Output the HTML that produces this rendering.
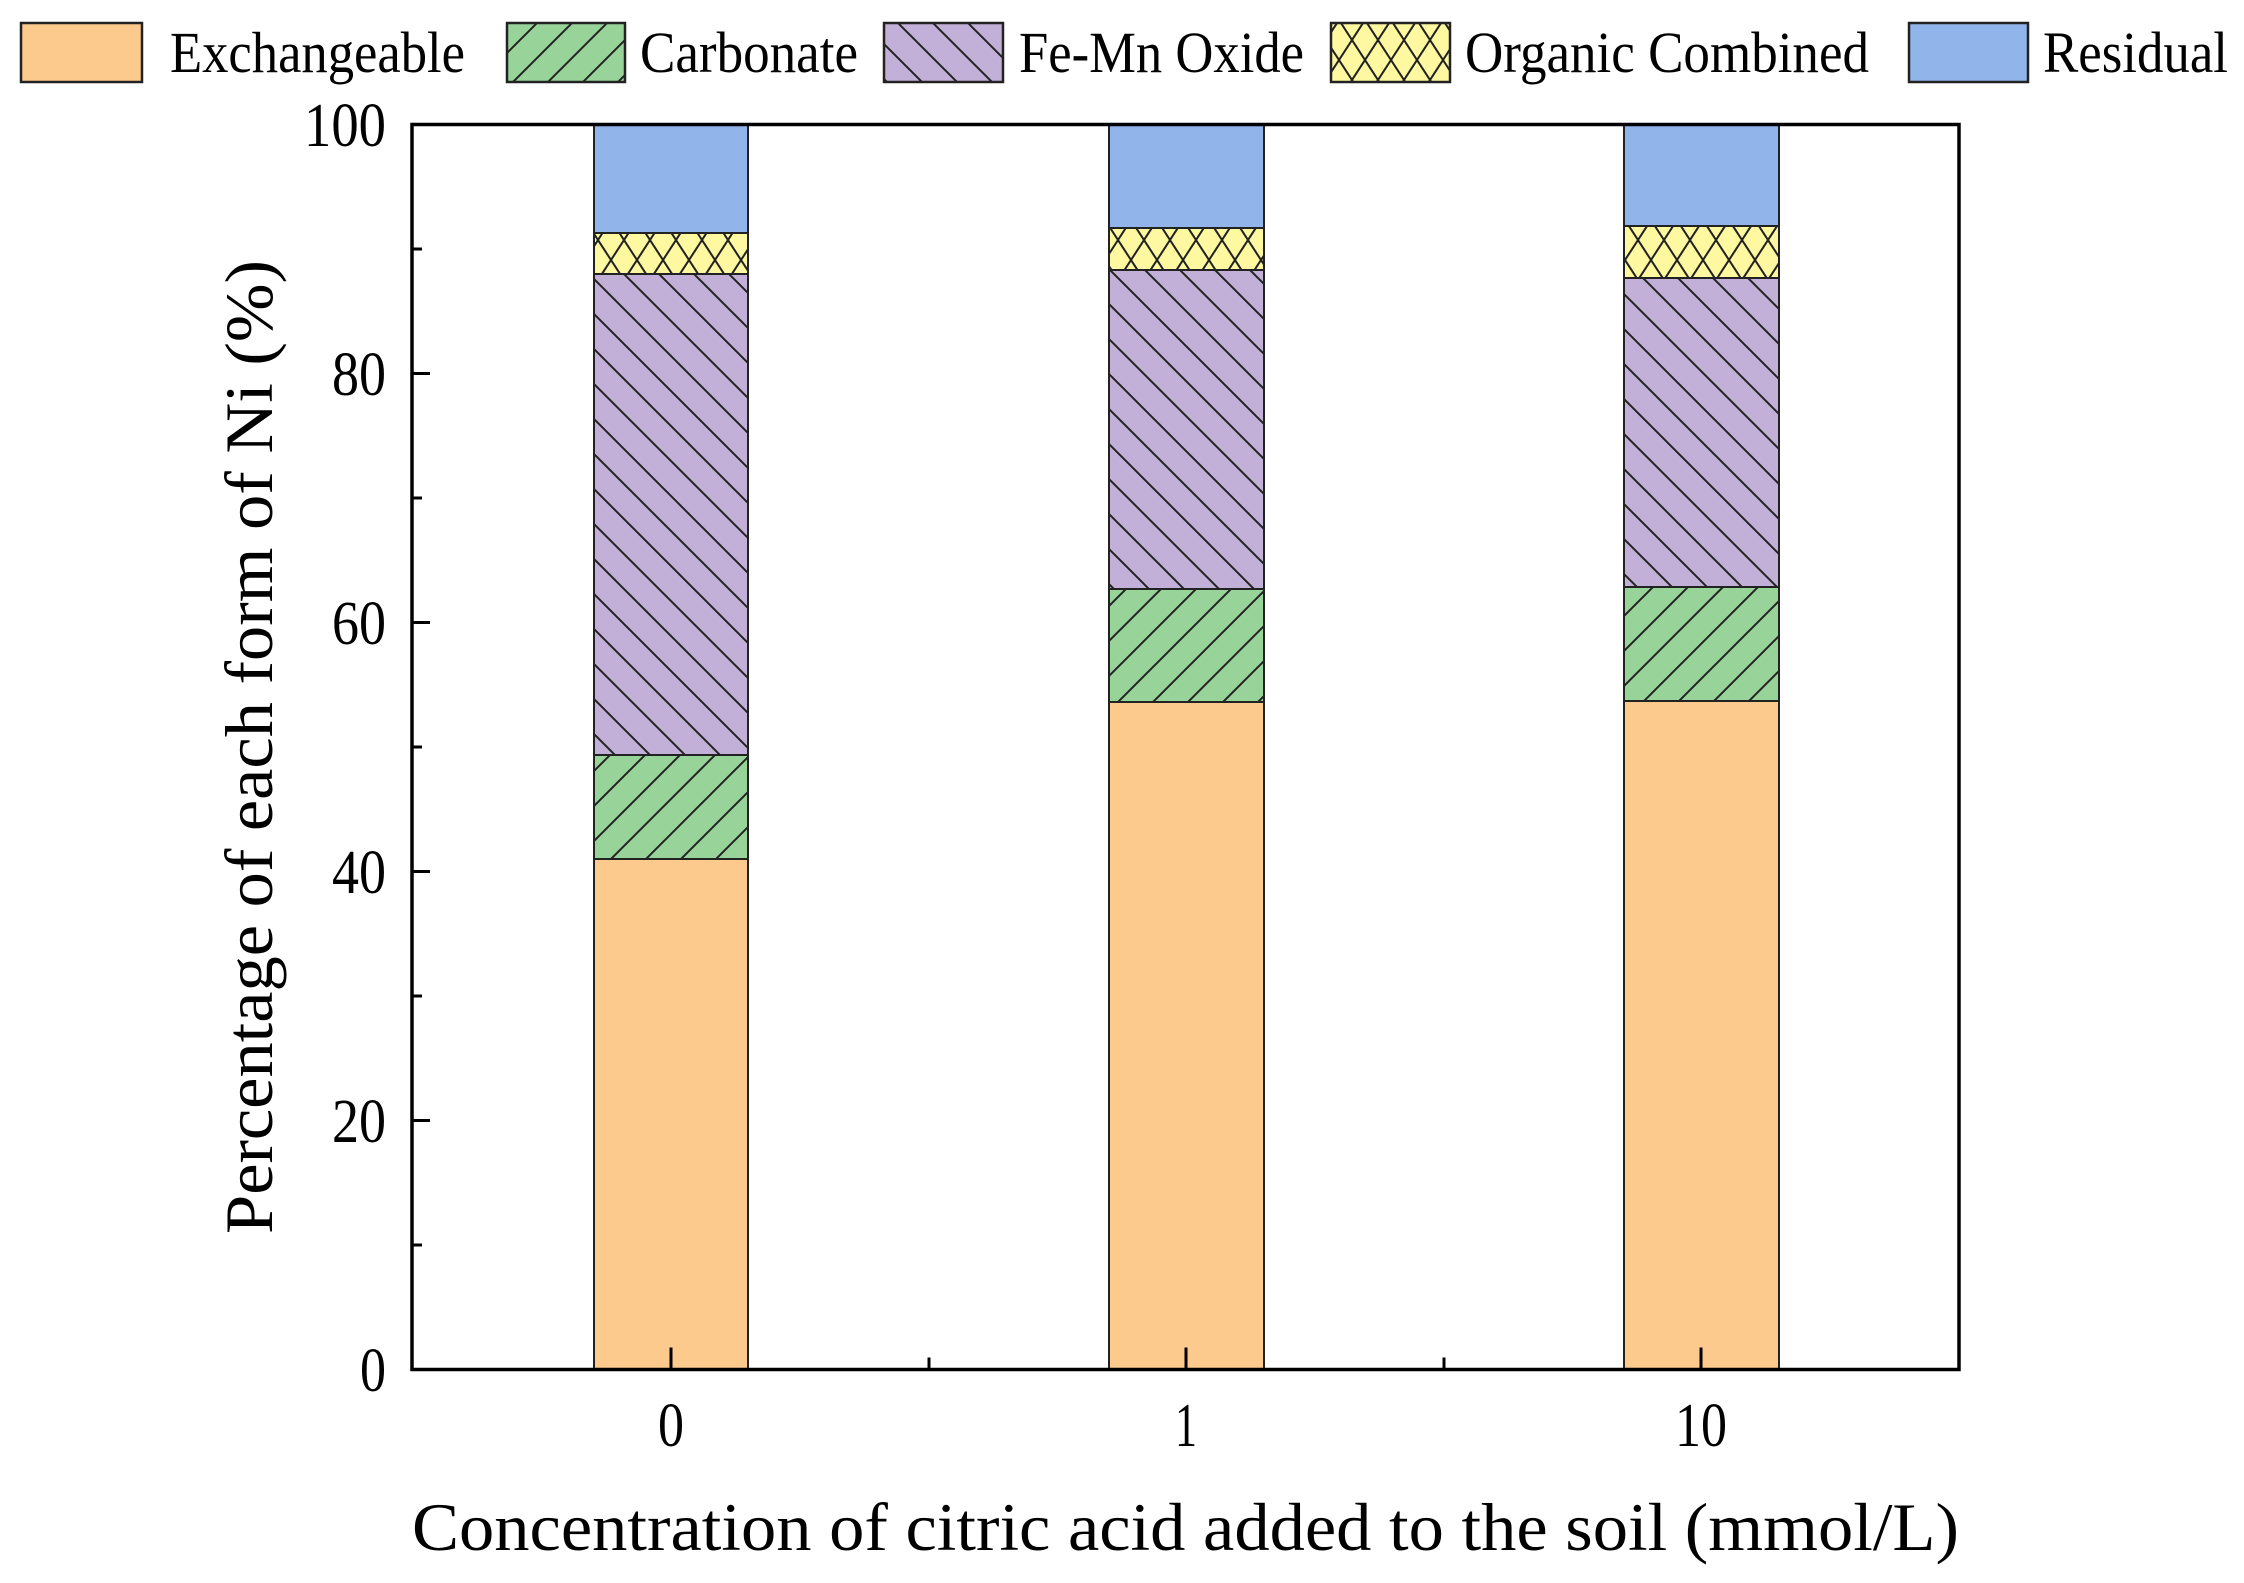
<!DOCTYPE html>
<html><head><meta charset="utf-8"><style>html,body{margin:0;padding:0;background:#fff}svg{display:block}</style></head>
<body>
<svg width="2244" height="1583" viewBox="0 0 2244 1583" xmlns="http://www.w3.org/2000/svg" font-family="'Liberation Serif', serif">
<defs>
<pattern id="fwd" patternUnits="userSpaceOnUse" width="35" height="35"><rect width="35" height="35" fill="#98D49A"/><path d="M-5,40 L40,-5 M-40,40 L5,-5 M30,40 L75,-5" stroke="#222" stroke-width="2"/></pattern>
<pattern id="bwd" patternUnits="userSpaceOnUse" width="35" height="35"><rect width="35" height="35" fill="#C3B0D8"/><path d="M-5,-5 L40,40 M-40,-5 L5,40 M30,-5 L75,40" stroke="#222" stroke-width="2"/></pattern>
<pattern id="xh" patternUnits="userSpaceOnUse" width="26" height="40"><rect width="26" height="40" fill="#FEF9A0"/><path d="M0,0 L26,40 M26,0 L0,40" stroke="#222" stroke-width="2"/></pattern>
</defs>
<g stroke="#222" stroke-width="2.5">
<rect x="21" y="23" width="121" height="59" fill="#FDCA8E"/>
<rect x="507" y="23" width="118" height="59" fill="url(#fwd)"/>
<rect x="884" y="23" width="119" height="59" fill="url(#bwd)"/>
<rect x="1331" y="23" width="119" height="59" fill="url(#xh)"/>
<rect x="1909" y="23" width="119" height="59" fill="#91B4EA"/>
</g>
<g font-size="58" fill="#000">
<text x="170" y="72" textLength="295" lengthAdjust="spacingAndGlyphs">Exchangeable</text>
<text x="640" y="72" textLength="218" lengthAdjust="spacingAndGlyphs">Carbonate</text>
<text x="1019" y="72" textLength="285" lengthAdjust="spacingAndGlyphs">Fe-Mn Oxide</text>
<text x="1465" y="72" textLength="404" lengthAdjust="spacingAndGlyphs">Organic Combined</text>
<text x="2043" y="72" textLength="185" lengthAdjust="spacingAndGlyphs">Residual</text>
</g>
<g stroke="#222" stroke-width="2">
<rect x="594" y="859" width="154" height="510.5" fill="#FDCA8E"/>
<rect x="594" y="755" width="154" height="104" fill="url(#fwd)"/>
<rect x="594" y="274" width="154" height="481" fill="url(#bwd)"/>
<rect x="594" y="233" width="154" height="41" fill="url(#xh)"/>
<rect x="594" y="124.5" width="154" height="108.5" fill="#91B4EA"/>
<rect x="1109" y="702" width="155" height="667.5" fill="#FDCA8E"/>
<rect x="1109" y="589" width="155" height="113" fill="url(#fwd)"/>
<rect x="1109" y="270" width="155" height="319" fill="url(#bwd)"/>
<rect x="1109" y="228" width="155" height="42" fill="url(#xh)"/>
<rect x="1109" y="124.5" width="155" height="103.5" fill="#91B4EA"/>
<rect x="1624" y="701" width="155" height="668.5" fill="#FDCA8E"/>
<rect x="1624" y="587" width="155" height="114" fill="url(#fwd)"/>
<rect x="1624" y="278" width="155" height="309" fill="url(#bwd)"/>
<rect x="1624" y="226" width="155" height="52" fill="url(#xh)"/>
<rect x="1624" y="124.5" width="155" height="101.5" fill="#91B4EA"/>
</g>
<rect x="412" y="124.5" width="1547" height="1245" fill="none" stroke="#000" stroke-width="3.5"/>
<g stroke="#000" stroke-width="3">
<path d="M412,1369.5h18 M412,1245h10 M412,1120.5h18 M412,996h10 M412,871.5h18 M412,747h10 M412,622.5h18 M412,498h10 M412,373.5h18 M412,249h10 M412,124.5h18"/>
<path d="M671,1369.5v-22 M1186,1369.5v-22 M1701,1369.5v-22 M929,1369.5v-12 M1444,1369.5v-12"/>
</g>
<g font-size="62" fill="#000" text-anchor="end">
<text x="386" y="1391" textLength="26" lengthAdjust="spacingAndGlyphs">0</text>
<text x="386" y="1142" textLength="54" lengthAdjust="spacingAndGlyphs">20</text>
<text x="386" y="893" textLength="54" lengthAdjust="spacingAndGlyphs">40</text>
<text x="386" y="644" textLength="54" lengthAdjust="spacingAndGlyphs">60</text>
<text x="386" y="395" textLength="54" lengthAdjust="spacingAndGlyphs">80</text>
<text x="386" y="146" textLength="82" lengthAdjust="spacingAndGlyphs">100</text>
</g>
<g font-size="62" fill="#000" text-anchor="middle">
<text x="671" y="1446" textLength="26" lengthAdjust="spacingAndGlyphs">0</text>
<text x="1186" y="1446" textLength="22" lengthAdjust="spacingAndGlyphs">1</text>
<text x="1701" y="1446" textLength="52" lengthAdjust="spacingAndGlyphs">10</text>
</g>
<text x="412" y="1550" font-size="68" textLength="1547" lengthAdjust="spacingAndGlyphs">Concentration of citric acid added to the soil (mmol/L)</text>
<text transform="translate(272,747) rotate(-90)" font-size="68" text-anchor="middle" textLength="974" lengthAdjust="spacingAndGlyphs">Percentage of each form of Ni (%)</text>
</svg>
</body></html>
